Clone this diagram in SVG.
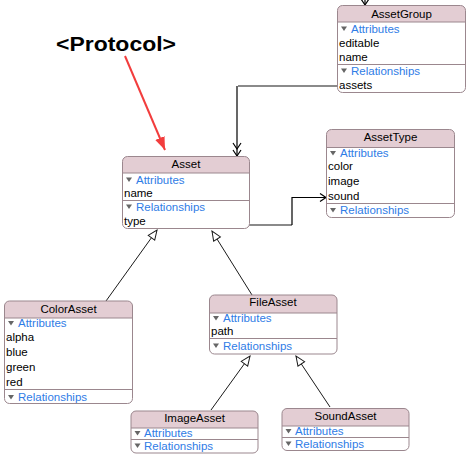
<svg xmlns="http://www.w3.org/2000/svg" width="476" height="462" viewBox="0 0 476 462">
<style>
.bg{fill:#fff}
.hdr{fill:#e3cdd3}
.ol{fill:none;stroke:#9b878e;stroke-width:1}
.sep{stroke:#9b878e;stroke-width:1}
text{font-family:"Liberation Sans",Arial,Helvetica,sans-serif;font-size:11.5px;fill:#000}
.h{text-anchor:middle}
.b{fill:#2f7ce6}
.tri{fill:#666}
.rel{fill:none;stroke:#000;stroke-width:1.2}
.relg{fill:none;stroke:#8a8a8a;stroke-width:2}
.inh{fill:none;stroke:#1a1a1a;stroke-width:1}
.proto{font-size:20px;font-weight:bold}
.red{fill:none;stroke:#f23d3d;stroke-width:2}
</style>
<defs>
<marker id="one" markerUnits="userSpaceOnUse" markerWidth="12" markerHeight="12" viewBox="0 0 12 12" refX="9" refY="6" orient="auto">
<path d="M3,2 L9,6 L3,10" fill="none" stroke="#000" stroke-width="1.2"/>
</marker>
<marker id="many" markerUnits="userSpaceOnUse" markerWidth="20" markerHeight="12" viewBox="0 0 20 12" refX="16" refY="6" orient="auto">
<path d="M3,2 L9,6 L3,10 M10,2 L16,6 L10,10" fill="none" stroke="#000" stroke-width="1.2"/>
</marker>
<marker id="inh" markerUnits="userSpaceOnUse" markerWidth="12" markerHeight="12" viewBox="0 0 12 12" refX="10.5" refY="6" orient="auto">
<path d="M1,2 L10.5,6 L1,10 Z" fill="#fff" stroke="#1a1a1a" stroke-width="1"/>
</marker>
<marker id="redhead" markerUnits="userSpaceOnUse" markerWidth="14" markerHeight="12" viewBox="0 0 14 12" refX="13" refY="6" orient="auto">
<path d="M0,1 L13,6 L0,11 Z" fill="#f23d3d"/>
</marker>
</defs>

<g id="connectors">
<path class="rel" d="M365,0 V5" marker-end="url(#one)"/>
<path class="relg" d="M337,86 H238"/>
<path class="rel" d="M237,86 V156" marker-end="url(#many)"/>
<path class="relg" d="M249,225 H292"/>
<path class="rel" d="M292,225 V197.5 H326" marker-end="url(#one)"/>
<path class="inh" d="M106,301 L157,230" marker-end="url(#inh)"/>
<path class="inh" d="M252,295 L212,231" marker-end="url(#inh)"/>
<path class="inh" d="M211,410 L250,356" marker-end="url(#inh)"/>
<path class="inh" d="M330,407 L296,356" marker-end="url(#inh)"/>
</g>

<g id="protocol">
<text class="proto" x="56" y="51" textLength="120" lengthAdjust="spacingAndGlyphs">&lt;Protocol&gt;</text>
<path class="red" d="M125,56 L165,150" marker-end="url(#redhead)"/>
</g>

<g id="AssetGroup">
<rect class="bg" x="337.5" y="5.5" width="128" height="87" rx="5"/>
<path class="hdr" d="M337.5,22 V10.5 A5,5 0 0 1 342.5,5.5 H460.5 A5,5 0 0 1 465.5,10.5 V22 Z"/>
<line class="sep" x1="337.5" y1="22" x2="465.5" y2="22"/>
<line class="sep" x1="337.5" y1="64.5" x2="465.5" y2="64.5"/>
<rect class="ol" x="337.5" y="5.5" width="128" height="87" rx="5"/>
<text class="h" x="401.5" y="18">AssetGroup</text>
<polygon class="tri" points="341,26.5 347,26.5 344,31"/>
<text class="b" x="351" y="33">Attributes</text>
<text x="339" y="47">editable</text>
<text x="339" y="61">name</text>
<polygon class="tri" points="341,68.5 347,68.5 344,73"/>
<text class="b" x="351" y="75">Relationships</text>
<text x="339" y="89">assets</text>
</g>

<g id="Asset">
<rect class="bg" x="122.5" y="156.5" width="127" height="72" rx="5"/>
<path class="hdr" d="M122.5,173 V161.5 A5,5 0 0 1 127.5,156.5 H244.5 A5,5 0 0 1 249.5,161.5 V173 Z"/>
<line class="sep" x1="122.5" y1="173" x2="249.5" y2="173"/>
<line class="sep" x1="122.5" y1="200.5" x2="249.5" y2="200.5"/>
<rect class="ol" x="122.5" y="156.5" width="127" height="72" rx="5"/>
<text class="h" x="186" y="168">Asset</text>
<polygon class="tri" points="126,177.5 132,177.5 129,182"/>
<text class="b" x="136" y="184">Attributes</text>
<text x="124" y="197">name</text>
<polygon class="tri" points="126,204.5 132,204.5 129,209"/>
<text class="b" x="136" y="211">Relationships</text>
<text x="124" y="225">type</text>
</g>

<g id="AssetType">
<rect class="bg" x="326.5" y="129.5" width="128" height="88" rx="5"/>
<path class="hdr" d="M326.5,147.5 V134.5 A5,5 0 0 1 331.5,129.5 H449.5 A5,5 0 0 1 454.5,134.5 V147.5 Z"/>
<line class="sep" x1="326.5" y1="147.5" x2="454.5" y2="147.5"/>
<line class="sep" x1="326.5" y1="203.5" x2="454.5" y2="203.5"/>
<rect class="ol" x="326.5" y="129.5" width="128" height="88" rx="5"/>
<text class="h" x="390.5" y="140.5">AssetType</text>
<polygon class="tri" points="330,151 336,151 333,155.5"/>
<text class="b" x="340" y="157">Attributes</text>
<text x="328" y="170">color</text>
<text x="328" y="185">image</text>
<text x="328" y="200">sound</text>
<polygon class="tri" points="330,208 336,208 333,212.5"/>
<text class="b" x="340" y="214">Relationships</text>
</g>

<g id="ColorAsset">
<rect class="bg" x="4.5" y="301" width="128" height="102.5" rx="5"/>
<path class="hdr" d="M4.5,318 V306 A5,5 0 0 1 9.5,301 H127.5 A5,5 0 0 1 132.5,306 V318 Z"/>
<line class="sep" x1="4.5" y1="318" x2="132.5" y2="318"/>
<line class="sep" x1="4.5" y1="389.5" x2="132.5" y2="389.5"/>
<rect class="ol" x="4.5" y="301" width="128" height="102.5" rx="5"/>
<text class="h" x="68.5" y="312.5">ColorAsset</text>
<polygon class="tri" points="8,321 14,321 11,325.5"/>
<text class="b" x="18" y="327">Attributes</text>
<text x="6" y="341">alpha</text>
<text x="6" y="356">blue</text>
<text x="6" y="371">green</text>
<text x="6" y="386">red</text>
<polygon class="tri" points="8,395 14,395 11,399.5"/>
<text class="b" x="18" y="401">Relationships</text>
</g>

<g id="FileAsset">
<rect class="bg" x="209.5" y="295" width="127.5" height="59" rx="5"/>
<path class="hdr" d="M209.5,313 V300 A5,5 0 0 1 214.5,295 H332 A5,5 0 0 1 337,300 V313 Z"/>
<line class="sep" x1="209.5" y1="313" x2="337" y2="313"/>
<line class="sep" x1="209.5" y1="338.5" x2="337" y2="338.5"/>
<rect class="ol" x="209.5" y="295" width="127.5" height="59" rx="5"/>
<text class="h" x="273" y="305.5">FileAsset</text>
<polygon class="tri" points="213,316 219,316 216,320.5"/>
<text class="b" x="223" y="322">Attributes</text>
<text x="211" y="335">path</text>
<polygon class="tri" points="213,343.5 219,343.5 216,348"/>
<text class="b" x="223" y="350">Relationships</text>
</g>

<g id="ImageAsset">
<rect class="bg" x="131" y="411" width="127" height="42" rx="5"/>
<path class="hdr" d="M131,428 V416 A5,5 0 0 1 136,411 H253 A5,5 0 0 1 258,416 V428 Z"/>
<line class="sep" x1="131" y1="428" x2="258" y2="428"/>
<line class="sep" x1="131" y1="439.5" x2="258" y2="439.5"/>
<rect class="ol" x="131" y="411" width="127" height="42" rx="5"/>
<text class="h" x="194.5" y="422">ImageAsset</text>
<polygon class="tri" points="134.5,431 140.5,431 137.5,435.5"/>
<text class="b" x="144" y="437">Attributes</text>
<polygon class="tri" points="134.5,443.5 140.5,443.5 137.5,448"/>
<text class="b" x="144" y="450">Relationships</text>
</g>

<g id="SoundAsset">
<rect class="bg" x="282" y="408.5" width="127" height="42" rx="5"/>
<path class="hdr" d="M282,426 V413.5 A5,5 0 0 1 287,408.5 H404 A5,5 0 0 1 409,413.5 V426 Z"/>
<line class="sep" x1="282" y1="426" x2="409" y2="426"/>
<line class="sep" x1="282" y1="437.5" x2="409" y2="437.5"/>
<rect class="ol" x="282" y="408.5" width="127" height="42" rx="5"/>
<text class="h" x="345.5" y="420">SoundAsset</text>
<polygon class="tri" points="285.5,429 291.5,429 288.5,433.5"/>
<text class="b" x="295" y="435">Attributes</text>
<polygon class="tri" points="285.5,441.5 291.5,441.5 288.5,446"/>
<text class="b" x="295" y="448">Relationships</text>
</g>
</svg>
